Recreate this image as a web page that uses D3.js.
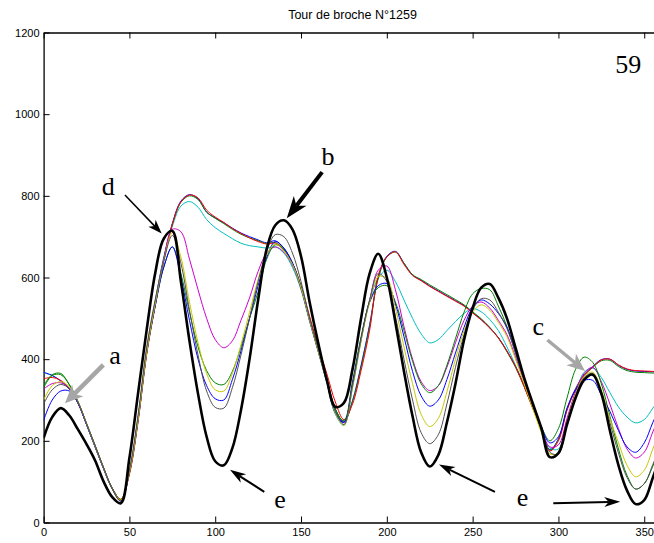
<!DOCTYPE html>
<html><head><meta charset="utf-8">
<script src="https://cdn.jsdelivr.net/npm/d3@7"></script>
<style>body{margin:0;background:#fff}svg{display:block}</style>
</head><body><svg id="c" width="654" height="543"></svg>
<script>
const title = "Tour de broche N°1259";
const xTicks = [0,50,100,150,200,250,300,350];
const yTicks = [0,200,400,600,800,1000,1200];
const angle = [0,5,10,15,20,25,30,35,40,45,50,55,60,65,70,75,80,85,90,95,100,105,110,115,120,125,130,135,140,145,150,155,160,165,170,175,180,185,190,195,200,205,210,215,220,225,230,235,240,245,250,255,260,265,270,275,280,285,290,295,300,305,310,315,320,325,330,335,340,345,350,355,360];

const black = [207,258,280,262,228,192,152,100,62,47, 158,315,470,610,695,714,590,445,315,210, 150,140,182,275,400,545,670,728,740,718, 652,540,440,350,283,293,375,500,610,658, 600,490,370,260,172,137,165,245,340,447, 525,575,584,550,500,428,355,292,232,160, 170,240,305,349,362,316,225,140,78,45, 55,110,170];
const gray = [290,325,338,328,295,242,188,133,82,52, 128,262,428,545,640,703,635,520,410,322, 282,280,330,410,500,590,665,705,700,660, 590,500,425,350,272,240,335,450,545,610, 590,505,400,300,220,193,215,290,380,460, 520,548,545,515,475,415,350,290,228,172, 168,240,310,355,365,320,245,170,110,82, 95,142,195];
const yellow = [300,335,345,332,296,242,187,132,82,55, 122,250,415,535,640,710,650,540,440,365, 325,322,365,435,515,595,655,682,665,632, 575,495,420,345,268,238,330,445,540,602, 598,525,430,340,265,235,255,320,400,470, 515,533,520,490,455,400,340,280,220,168, 170,245,315,358,368,325,255,195,140,112, 128,180,232];
const blue1 = [250,300,322,322,293,240,186,131,82,53, 122,250,415,530,625,675,600,495,400,335, 303,300,350,420,500,580,650,688,672,635, 575,495,420,345,268,245,340,450,540,580, 585,535,455,370,310,285,300,350,415,478, 527,545,535,512,478,415,350,292,235,195, 210,280,325,348,348,312,272,225,185,172, 195,245,290];
const green1 = [330,360,362,338,297,243,189,134,84,56, 125,255,418,530,625,675,610,515,430,372, 342,338,370,430,500,565,645,680,668,635, 578,498,422,348,272,250,345,455,540,575, 580,540,470,395,340,318,335,385,450,515, 560,573,570,530,480,420,355,290,235,200, 230,305,375,405,392,340,260,180,115,82, 95,138,190];
const magenta = [327,340,342,330,295,242,188,133,83,54, 125,255,420,540,645,718,712,645,570,500, 448,428,445,495,550,615,660,675,662,630, 573,495,420,345,270,245,338,450,545,618, 628,570,480,400,345,323,335,380,440,495, 530,540,525,495,460,405,345,288,232,185, 190,255,320,365,380,345,290,230,180,158, 172,222,270];
const cyan = [367,360,346,326,293,240,186,132,83,55, 125,255,418,540,650,725,775,786,772,742, 722,708,695,684,678,675,672,675,660,625, 570,492,418,342,265,238,330,445,545,598, 618,590,545,500,462,440,448,470,492,512, 524,516,497,470,430,385,335,283,228,182, 180,250,318,368,378,355,318,283,258,244, 252,280,310];
const red = [352,355,348,328,293,241,186,132,84,57, 118,245,410,530,640,730,785,802,795,765, 748,735,720,708,697,688,682,684,668,635, 580,505,432,365,295,252,290,372,471,605, 650,663,632,605,592,578,566,554,542,530, 513,496,476,452,420,382,333,280,228,175, 200,275,325,360,380,398,400,386,376,372, 371,370,370];
const blue2 = [368,360,347,327,292,240,185,131,82,54, 122,250,414,535,645,732,787,803,793,760, 746,734,721,709,700,692,685,690,672,636, 578,500,426,352,278,246,298,385,485,600, 652,664,635,606,593,579,567,555,543,531, 514,497,477,453,420,382,335,282,230,178, 205,278,328,362,382,399,400,385,375,371, 370,369,369];
const green2 = [335,362,365,337,296,243,189,134,84,56, 120,248,412,532,642,730,784,800,791,760, 745,732,718,706,697,690,683,686,669,633, 576,498,425,352,278,248,296,380,480,598, 650,662,635,607,595,582,570,558,546,533, 516,499,478,452,418,380,333,281,229,177, 203,276,326,360,380,396,397,382,372,368, 367,366,366];

// annotation letters (data coordinates, baseline)
const letters = [
  {t:"a", x:41.6, y:389}, {t:"d", x:37.7, y:802}, {t:"b", x:165.7, y:875},
  {t:"c", x:288.3, y:460}, {t:"e", x:137.8, y:36}, {t:"e", x:279.1, y:40}
];
const badge = {t:"59", x:340.7, y:1102};
// arrows: tail -> tip (data coordinates)
const arrows = [
  {x1:34.8, y1:386, x2:12.5, y2:292, c:"#a6a6a6", w:4.5, L:18, W:16},
  {x1:47.4, y1:802, x2:68.8, y2:708, c:"#000", w:1.5, L:14, W:10},
  {x1:162.3, y1:858, x2:141.7, y2:745, c:"#000", w:4, L:22, W:16},
  {x1:293.6, y1:447, x2:315.5, y2:371, c:"#a6a6a6", w:3.5, L:18, W:15},
  {x1:128.6, y1:75, x2:108.6, y2:129, c:"#000", w:2, L:16, W:10},
  {x1:263, y1:75, x2:230.4, y2:142, c:"#000", w:2, L:16, W:10},
  {x1:297, y1:47, x2:336, y2:51, c:"#000", w:2, L:16, W:10}
];

const series = [
  {v:cyan, c:"#00bfbf", w:1}, {v:blue2, c:"#0000ff", w:1}, {v:green2, c:"#008000", w:1},
  {v:red, c:"#ff0000", w:1}, {v:magenta, c:"#cc00cc", w:1}, {v:green1, c:"#008000", w:1},
  {v:blue1, c:"#0000ff", w:1}, {v:yellow, c:"#c8c800", w:1}, {v:gray, c:"#505050", w:1},
  {v:black, c:"#000000", w:2.6}
];

const svg = d3.select("#c");
const PL = 43.6, PR = 661.4, PT = 32.5, PB = 522.5;
const xs = d3.scaleLinear().domain([0,360]).range([PL,PR]);
const ys = d3.scaleLinear().domain([0,1200]).range([PB,PT]);

svg.append("defs").append("clipPath").attr("id","clip")
  .append("rect").attr("x",PL).attr("y",PT).attr("width",PR-PL).attr("height",PB-PT);

const font = "'Liberation Sans', Arial, sans-serif";

// axes
const ax = svg.append("g").attr("font-family", font);
ax.append("g").attr("transform",`translate(${PL},0)`)
  .call(d3.axisLeft(ys).tickValues(yTicks).tickFormat(d3.format("d")).tickSize(-6).tickSizeOuter(0).tickPadding(4));
ax.append("g").attr("transform",`translate(0,${PB})`)
  .call(d3.axisBottom(xs).tickValues(xTicks).tickFormat(d3.format("d")).tickSize(-6).tickSizeOuter(0).tickPadding(6));
ax.append("g").attr("transform",`translate(0,${PT})`)
  .call(d3.axisTop(xs).tickValues(xTicks).tickSize(-6).tickSizeOuter(0).tickFormat(""));
ax.selectAll(".domain").attr("stroke","#000").attr("stroke-width",1.3);
ax.selectAll(".tick line").attr("stroke","#000").attr("stroke-width",1);
ax.selectAll(".tick text").attr("font-size",11).attr("fill","#000").attr("font-family",font);

// curves
const line = d3.line().x((d,i)=>xs(angle[i])).y(d=>ys(d)).curve(d3.curveCatmullRom.alpha(0.5));
const g = svg.append("g").attr("clip-path","url(#clip)");
series.forEach(s=>{
  g.append("path").attr("d", line(s.v)).attr("fill","none")
    .attr("stroke", s.c).attr("stroke-width", s.w).attr("stroke-linejoin","round");
});

// title
svg.append("text").attr("x",(PL+PR)/2).attr("y",19).attr("text-anchor","middle")
  .attr("font-family",font).attr("font-size",12.5).text(title);

// annotations
svg.selectAll("text.lab").data(letters).join("text").attr("class","lab")
  .attr("x",d=>xs(d.x)).attr("y",d=>ys(d.y)).attr("text-anchor","middle")
  .attr("font-family","'Liberation Serif', 'Times New Roman', serif").attr("font-size",26)
  .text(d=>d.t);
svg.append("text").attr("x",xs(badge.x)).attr("y",ys(badge.y)).attr("text-anchor","middle")
  .attr("font-family","'Liberation Serif', 'Times New Roman', serif").attr("font-size",26)
  .text(badge.t);

arrows.forEach(a=>{
  const x1=xs(a.x1), y1=ys(a.y1), x2=xs(a.x2), y2=ys(a.y2);
  const dx=x2-x1, dy=y2-y1, len=Math.hypot(dx,dy);
  const ux=dx/len, uy=dy/len, nx=-uy, ny=ux;
  const bx=x2-ux*a.L, by=y2-uy*a.L;
  const mx=x2-ux*a.L*0.72, my=y2-uy*a.L*0.72;
  svg.append("line").attr("x1",x1).attr("y1",y1).attr("x2",mx).attr("y2",my)
    .attr("stroke",a.c).attr("stroke-width",a.w);
  svg.append("path").attr("d",`M${x2},${y2}L${bx+nx*a.W/2},${by+ny*a.W/2}L${mx},${my}L${bx-nx*a.W/2},${by-ny*a.W/2}Z`)
    .attr("fill",a.c);
});
</script></body></html>
